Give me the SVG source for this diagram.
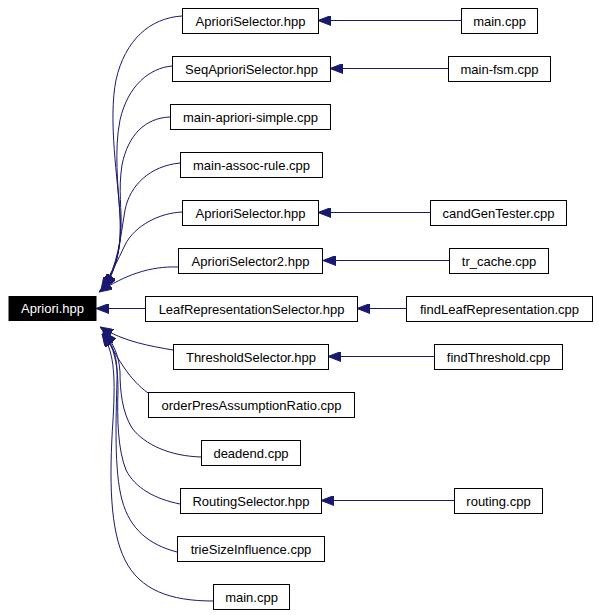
<svg xmlns="http://www.w3.org/2000/svg" width="599" height="615" viewBox="0 0 599 615">
<style>
.n rect{fill:#fff;stroke:#000;stroke-width:1}
.n text{font-family:"Liberation Sans",Arial,sans-serif;font-size:13px;text-anchor:middle;fill:#000}
#apriori rect{fill:#000}
#apriori text{fill:#fff}
.e path{fill:none;stroke:#191970;stroke-width:1;marker-end:url(#ah)}
</style>
<defs>
<marker id="ah" markerUnits="userSpaceOnUse" viewBox="0 0 13 10" markerWidth="13" markerHeight="10" refX="13" refY="5" orient="auto">
<path d="M0,0 L13,5 L0,10 z" fill="#191970" stroke="#191970" stroke-width="1"/>
</marker>
</defs>
<rect width="599" height="615" fill="#fff"/>
<g class="e" id="edges">
<path d="M182,16 C150,18 125,40 116,80 C108,120 118,180 120,215 C122,250 115,270 104,287"/>
<path d="M172,66 C150,68 128,85 120,120 C114,150 118,185 120,215 C122,250 115,272 104,288"/>
<path d="M170,117 C145,118 128,135 122,165 C118,190 122,210 121,230 C120,255 113,274 103,289"/>
<path d="M180,163 C150,166 130,185 125,210 C120,240 118,265 103,289"/>
<path d="M182,212 C160,213 135,225 125,245 C118,260 110,276 101,290"/>
<path d="M178,267 C150,266 125,275 99,292"/>
<path d="M145,308.5 L96,308.5"/>
<path d="M173,350 C150,346 125,342 100,327"/>
<path d="M148,393 C130,380 118,360 103,331"/>
<path d="M201,457 C170,456 145,445 132,428 C122,412 120,390 120,372 C119,355 113,343 104,332"/>
<path d="M180,504 C155,499 135,488 126,470 C118,450 117,420 118,390 C118,360 112,343 103,333"/>
<path d="M177,552 C150,545 130,530 122,500 C114,470 116,420 117,380 C118,355 112,343 103,333"/>
<path d="M213,601 C170,601 140,590 125,560 C110,530 109,480 113,420 C116,370 113,350 102,334"/>
<path d="M461,20.5 L318,20.5"/>
<path d="M448,68.5 L330,68.5"/>
<path d="M430,212.5 L318,212.5"/>
<path d="M449,260.5 L323,260.5"/>
<path d="M406,308.5 L357,308.5"/>
<path d="M434,356.5 L328,356.5"/>
<path d="M454,500.5 L321,500.5"/>
</g>
<g class="n" id="apriori"><rect x="9" y="296.5" width="87" height="24"/><text x="52.5" y="313">Apriori.hpp</text></g>
<g class="n" id="m0"><rect x="182.5" y="8.5" width="136" height="25"/><text x="250.5" y="25.5">AprioriSelector.hpp</text></g>
<g class="n" id="m1"><rect x="172.5" y="56.5" width="158" height="25"/><text x="251.5" y="73.5">SeqAprioriSelector.hpp</text></g>
<g class="n" id="m2"><rect x="170.5" y="104.5" width="160" height="25"/><text x="250.5" y="121.5">main-apriori-simple.cpp</text></g>
<g class="n" id="m3"><rect x="180.5" y="152.5" width="142" height="25"/><text x="251.5" y="169.5">main-assoc-rule.cpp</text></g>
<g class="n" id="m4"><rect x="182.5" y="200.5" width="136" height="25"/><text x="250.5" y="217.5">AprioriSelector.hpp</text></g>
<g class="n" id="m5"><rect x="178.5" y="248.5" width="144" height="25"/><text x="250.5" y="265.5">AprioriSelector2.hpp</text></g>
<g class="n" id="m6"><rect x="145.5" y="296.5" width="212" height="25"/><text x="251.5" y="313.5">LeafRepresentationSelector.hpp</text></g>
<g class="n" id="m7"><rect x="173.5" y="344.5" width="155" height="25"/><text x="251" y="361.5">ThresholdSelector.hpp</text></g>
<g class="n" id="m8"><rect x="148.5" y="392.5" width="206" height="25"/><text x="251.5" y="409.5">orderPresAssumptionRatio.cpp</text></g>
<g class="n" id="m9"><rect x="201.5" y="440.5" width="99" height="25"/><text x="251" y="457.5">deadend.cpp</text></g>
<g class="n" id="m10"><rect x="180.5" y="488.5" width="141" height="25"/><text x="251" y="505.5">RoutingSelector.hpp</text></g>
<g class="n" id="m11"><rect x="177.5" y="536.5" width="147" height="25"/><text x="251" y="553.5">trieSizeInfluence.cpp</text></g>
<g class="n" id="m12"><rect x="213.5" y="584.5" width="76" height="25"/><text x="251.5" y="601.5">main.cpp</text></g>
<g class="n" id="r0"><rect x="461.5" y="8.5" width="76" height="25"/><text x="499.5" y="25.5">main.cpp</text></g>
<g class="n" id="r1"><rect x="448.5" y="56.5" width="102" height="25"/><text x="499.5" y="73.5">main-fsm.cpp</text></g>
<g class="n" id="r4"><rect x="430.5" y="200.5" width="136" height="25"/><text x="498.5" y="217.5">candGenTester.cpp</text></g>
<g class="n" id="r5"><rect x="449.5" y="248.5" width="99" height="25"/><text x="499" y="265.5">tr_cache.cpp</text></g>
<g class="n" id="r6"><rect x="406.5" y="296.5" width="186" height="25"/><text x="499.5" y="313.5">findLeafRepresentation.cpp</text></g>
<g class="n" id="r7"><rect x="434.5" y="344.5" width="128" height="25"/><text x="498.5" y="361.5">findThreshold.cpp</text></g>
<g class="n" id="r10"><rect x="454.5" y="488.5" width="88" height="25"/><text x="498.5" y="505.5">routing.cpp</text></g>
</svg>
